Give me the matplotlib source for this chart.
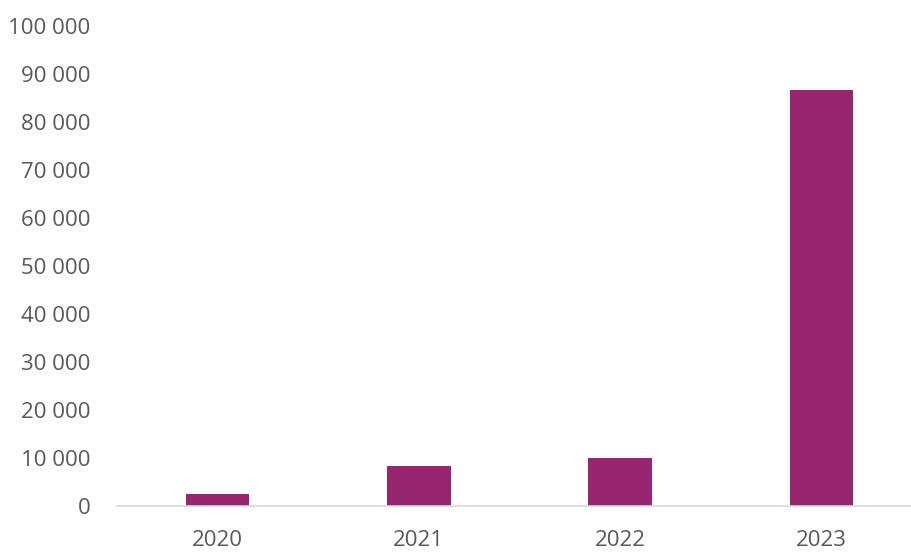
import matplotlib
matplotlib.use("Agg")
from matplotlib import pyplot as plt

years = ["2020", "2021", "2022", "2023"]
values = [2500, 8150, 9950, 86700]
yticks = list(range(0, 100001, 10000))

plt.rcParams["font.family"] = ["Open Sans", "DejaVu Sans"]

fig = plt.figure(figsize=(9.11, 5.52), dpi=100)
ax = fig.add_axes([117 / 911, 46.5 / 552, 805 / 911, 479.5 / 552])

ax.bar(range(len(years)), values, width=0.315, color="#98256F")

ax.set_xlim(-0.5, 3.5)
ax.set_ylim(0, 100000)
ax.set_xticks(range(len(years)))
ax.set_xticklabels(years)
ax.set_yticks(yticks)
ax.set_yticklabels([f"{v:,}".replace(",", " ") for v in yticks])

for side in ["top", "right", "left"]:
    ax.spines[side].set_visible(False)
ax.spines["bottom"].set_color("#D9D9D9")
ax.spines["bottom"].set_linewidth(1.2)
ax.tick_params(axis="both", length=0, labelsize=16, colors="#595959")
ax.tick_params(axis="x", pad=18)
ax.tick_params(axis="y", pad=19)

fig.savefig("out.png", dpi=100)
